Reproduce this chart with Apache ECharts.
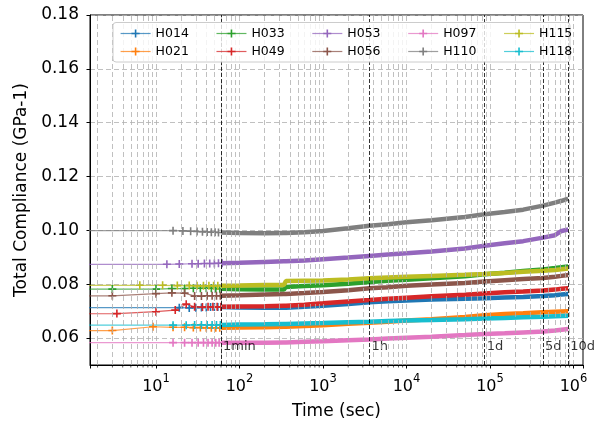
<!DOCTYPE html>
<html>
<head>
<meta charset="utf-8">
<script src="https://cdn.jsdelivr.net/npm/echarts@6/dist/echarts.min.js"></script>
<style>html,body{margin:0;padding:0;background:#fff}#c{width:594px;height:426px}</style>
</head>
<body>
<div id="c"></div>
<script>
// ---------- data ----------
const NAMES = ['H014','H021','H033','H049','H053','H056','H097','H110','H115','H118'];
const COLORS = ['#1f77b4','#ff7f0e','#2ca02c','#d62728','#9467bd','#8c564b','#e377c2','#7f7f7f','#bcbd22','#17becf'];

// early (sparse, with markers) part: time (s) and compliance (GPa-1)
const T_H014 = [1, 19, 25, 30, 35, 40, 45, 50, 55, 60];
const C_H014 = [0.0713, 0.0713, 0.0712, 0.0713, 0.0714, 0.0714, 0.0715, 0.0715, 0.0715, 0.0715];
const T_H021 = [1, 3, 9.2, 16, 22, 28, 34, 40, 46, 52, 58];
const C_H021 = [0.0627, 0.0628, 0.0642, 0.0640, 0.0640, 0.0639, 0.0639, 0.0638, 0.0638, 0.0638, 0.0638];
const T_H033 = [1, 3, 10, 15.5, 22, 28, 34, 40, 46, 52, 58];
const C_H033 = [0.0782, 0.0782, 0.0782, 0.0784, 0.0784, 0.0785, 0.0785, 0.0785, 0.0785, 0.0784, 0.0783];
const T_H049 = [1, 3.4, 10, 17, 23, 29, 36, 42, 48, 54, 60];
const C_H049 = [0.0690, 0.0691, 0.0698, 0.0704, 0.0726, 0.0716, 0.0715, 0.0716, 0.0716, 0.0716, 0.0716];
const T_H053 = [1, 13.5, 19, 27, 32, 38, 44, 50, 56, 62];
const C_H053 = [0.0874, 0.0874, 0.0875, 0.0876, 0.0876, 0.0877, 0.0877, 0.0877, 0.0878, 0.0878];
const T_H056 = [1, 3, 10, 15.5, 22, 29, 35, 41, 47, 53, 59];
const C_H056 = [0.0757, 0.0757, 0.0765, 0.0768, 0.0767, 0.0756, 0.0756, 0.0757, 0.0757, 0.0757, 0.0757];
const T_H097 = [1, 16, 22, 27, 32, 37, 42, 47, 52, 57];
const C_H097 = [0.0583, 0.0583, 0.0583, 0.0583, 0.0583, 0.0583, 0.0583, 0.0583, 0.0583, 0.0583];
const T_H110 = [1, 16, 21, 26, 31, 36, 41, 46, 51, 56];
const C_H110 = [0.0999, 0.0999, 0.0998, 0.0997, 0.0996, 0.0995, 0.0994, 0.0993, 0.0993, 0.0992];
const T_H115 = [1, 6.4, 12, 18, 25, 31, 37, 43, 49, 55];
const C_H115 = [0.0796, 0.0796, 0.0796, 0.0795, 0.0795, 0.0794, 0.0794, 0.0794, 0.0794, 0.0794];
const T_H118 = [1, 16, 23, 29, 35, 41, 47, 53, 59];
const C_H118 = [0.0648, 0.0648, 0.0648, 0.0649, 0.0649, 0.0649, 0.0649, 0.0649, 0.0649];

// dense part (markers merge into a thick band)
const BAND_T = [60, 100, 200, 340, 360, 600, 1000, 2000, 3600, 6000, 10000, 20000, 50000, 86400, 150000, 250000, 432000, 600000, 720000, 864000];
const B_H014 = [0.0715, 0.0714, 0.0713, 0.0713, 0.0713, 0.0716, 0.0720, 0.0727, 0.0733, 0.0737, 0.0740, 0.0743, 0.0746, 0.0748, 0.0751, 0.0753, 0.0756, 0.0759, 0.0762, 0.0764];
const B_H021 = [0.0638, 0.0639, 0.0640, 0.0642, 0.0642, 0.0645, 0.0648, 0.0653, 0.0657, 0.0661, 0.0665, 0.0670, 0.0678, 0.0685, 0.0689, 0.0692, 0.0696, 0.0698, 0.0699, 0.0700];
const B_H033 = [0.0783, 0.0781, 0.0780, 0.0780, 0.0790, 0.0793, 0.0796, 0.0802, 0.0808, 0.0813, 0.0817, 0.0822, 0.0830, 0.0837, 0.0843, 0.0849, 0.0855, 0.0860, 0.0863, 0.0866];
const B_H049 = [0.0716, 0.0717, 0.0718, 0.0720, 0.0720, 0.0724, 0.0729, 0.0736, 0.0741, 0.0746, 0.0750, 0.0755, 0.0761, 0.0766, 0.0770, 0.0773, 0.0777, 0.0780, 0.0783, 0.0785];
const B_H053 = [0.0878, 0.0880, 0.0883, 0.0885, 0.0885, 0.0888, 0.0893, 0.0899, 0.0905, 0.0910, 0.0915, 0.0922, 0.0933, 0.0943, 0.0952, 0.0960, 0.0973, 0.0982, 0.0998, 0.1003];
const B_H056 = [0.0757, 0.0759, 0.0762, 0.0764, 0.0764, 0.0767, 0.0771, 0.0778, 0.0785, 0.0789, 0.0794, 0.0799, 0.0805, 0.0810, 0.0815, 0.0819, 0.0823, 0.0828, 0.0831, 0.0834];
const B_H097 = [0.0583, 0.0583, 0.0583, 0.0584, 0.0584, 0.0586, 0.0588, 0.0592, 0.0595, 0.0598, 0.0601, 0.0605, 0.0611, 0.0615, 0.0618, 0.0621, 0.0624, 0.0628, 0.0631, 0.0634];
const B_H110 = [0.0992, 0.0990, 0.0989, 0.0990, 0.0990, 0.0993, 0.0998, 0.1008, 0.1017, 0.1023, 0.1030, 0.1038, 0.1050, 0.1060, 0.1068, 0.1077, 0.1092, 0.1103, 0.1110, 0.1118];
const B_H115 = [0.0794, 0.0795, 0.0797, 0.0797, 0.0812, 0.0813, 0.0814, 0.0818, 0.0822, 0.0825, 0.0828, 0.0831, 0.0835, 0.0838, 0.0842, 0.0846, 0.0850, 0.0853, 0.0856, 0.0858];
const B_H118 = [0.0649, 0.0650, 0.0651, 0.0652, 0.0652, 0.0654, 0.0656, 0.0659, 0.0661, 0.0663, 0.0665, 0.0667, 0.0670, 0.0673, 0.0675, 0.0677, 0.0679, 0.0681, 0.0682, 0.0683];

// reference time marks
const REF_T = [60, 3600, 86400, 432000, 864000];
const REF_LABELS = ['1min', '1h', '1d', '5d', '10d'];

// legend rows (matplotlib fills columns first)
const LEGEND_ROW1 = ['H014','H033','H053','H097','H115'];
const LEGEND_ROW2 = ['H021','H049','H056','H110','H118'];

// axis ranges
const X_MIN = 1.62, X_MAX = 1.3e6;
const Y_MIN = 0.05, Y_MAX = 0.18;

const EARLY = {H014:[T_H014,C_H014],H021:[T_H021,C_H021],H033:[T_H033,C_H033],H049:[T_H049,C_H049],H053:[T_H053,C_H053],
  H056:[T_H056,C_H056],H097:[T_H097,C_H097],H110:[T_H110,C_H110],H115:[T_H115,C_H115],H118:[T_H118,C_H118]};
const BAND = {H014:B_H014,H021:B_H021,H033:B_H033,H049:B_H049,H053:B_H053,H056:B_H056,H097:B_H097,H110:B_H110,H115:B_H115,H118:B_H118};

// ---------- chart ----------
const FONT = 'DejaVu Sans';
const PLUS = 'path://M4,0H6V4H10V6H6V10H4V6H0V4H4Z';
const zip = (a, b) => a.map((v, i) => [v, b[i]]);

// grid line positions for the log axis (decoration)
const gridX = [];
for (let e = 0; e <= 6; e++) for (let m = 1; m <= 9; m++) {
  const v = m * Math.pow(10, e);
  if (v > X_MIN && v < X_MAX) gridX.push(v);
}
const minorX = gridX.filter(v => Math.abs(Math.log10(v) - Math.round(Math.log10(v))) > 1e-9);

const series = [];
// grid lines (behind data)
series.push({
  type: 'line', data: [], silent: true, z: 1,
  markLine: {
    silent: true, symbol: ['none', 'none'], animation: false,
    label: {show: false},
    lineStyle: {color: '#b0b0b0', type: [5, 3], width: 0.8},
    data: gridX.map(v => ({xAxis: v}))
  }
});
// early thin lines with + markers
NAMES.forEach((n, i) => {
  series.push({
    name: n, type: 'line', z: 3,
    data: zip(EARLY[n][0], EARLY[n][1]),
    symbol: PLUS, symbolSize: 8, showSymbol: true,
    itemStyle: {color: COLORS[i]},
    lineStyle: {color: COLORS[i], width: 1.2, opacity: 0.75},
    emphasis: {disabled: true}
  });
});
// dense band parts
NAMES.forEach((n, i) => {
  series.push({
    name: n, type: 'line', z: 3,
    data: zip(BAND_T, BAND[n]),
    showSymbol: false, symbol: 'none',
    itemStyle: {color: COLORS[i]},
    lineStyle: {color: COLORS[i], width: 4.5},
    emphasis: {disabled: true}
  });
});
// reference lines + labels
series.push({
  type: 'scatter', z: 4, silent: true,
  symbolSize: 0,
  data: REF_T.map((t, i) => ({value: [t, 0.0567], name: REF_LABELS[i]})),
  label: {show: true, position: 'right', distance: 2, formatter: p => p.name,
          fontFamily: FONT, fontSize: 13, color: '#000'},
  markLine: {
    silent: true, symbol: ['none', 'none'], animation: false,
    label: {show: false},
    lineStyle: {color: '#000', type: [4, 2], width: 0.8},
    data: REF_T.map(t => ({xAxis: t}))
  }
});
// minor ticks on the x axis
series.push({
  type: 'scatter', z: 5, silent: true, clip: false,
  symbol: 'rect', symbolSize: [0.8, 2.4], symbolOffset: [0, 1.2],
  itemStyle: {color: '#000'},
  data: minorX.map(v => [v, Y_MIN])
});

const legendCommon = {
  selectedMode: false, orient: 'horizontal', padding: 0,
  itemWidth: 30, itemHeight: 10, itemGap: 27,
  lineStyle: {width: 1.2, opacity: 0.75},
  textStyle: {fontFamily: FONT, fontSize: 12.5, color: '#000'}
};

const option = {
  animation: false,
  backgroundColor: '#fff',
  grid: {left: 90, right: 11, top: 15, bottom: 61, show: true, borderColor: '#000', borderWidth: 1, backgroundColor: 'transparent'},
  graphic: [{
    type: 'rect', z: 10, silent: true,
    shape: {x: 113, y: 22.5, width: 457, height: 39.5, r: 3},
    style: {fill: 'rgba(255,255,255,0.8)', stroke: '#cccccc', lineWidth: 1}
  }],
  legend: [
    Object.assign({}, legendCommon, {data: LEGEND_ROW1, left: 120, top: 27, z: 20}),
    Object.assign({}, legendCommon, {data: LEGEND_ROW2, left: 120, top: 45, z: 20})
  ],
  xAxis: {
    type: 'log', logBase: 10, min: X_MIN, max: X_MAX,
    name: 'Time (sec)', nameLocation: 'middle', nameGap: 38,
    nameTextStyle: {fontFamily: FONT, fontSize: 17, color: '#000'},
    axisLine: {show: true, lineStyle: {color: '#000', width: 1}},
    axisTick: {show: true, length: 3.5, lineStyle: {color: '#000'}},
    splitLine: {show: false},
    axisLabel: {
      margin: 8, color: '#000', fontFamily: FONT, fontSize: 16,
      formatter: v => {
        const e = Math.log10(v);
        if (Math.abs(e - Math.round(e)) > 1e-6) return '';
        return '{b|10}{s|' + Math.round(e) + '}';
      },
      rich: {
        b: {fontFamily: FONT, fontSize: 16, color: '#000', lineHeight: 22, verticalAlign: 'bottom'},
        s: {fontFamily: FONT, fontSize: 11.5, color: '#000', lineHeight: 22, verticalAlign: 'top'}
      }
    }
  },
  yAxis: {
    type: 'value', min: Y_MIN, max: Y_MAX, splitNumber: 7,
    name: 'Total Compliance (GPa-1)', nameLocation: 'middle', nameGap: 60,
    nameTextStyle: {fontFamily: FONT, fontSize: 17, color: '#000'},
    axisLine: {show: true, lineStyle: {color: '#000', width: 1}},
    axisTick: {show: true, length: 3.5, lineStyle: {color: '#000'}},
    splitLine: {show: true, lineStyle: {color: '#b0b0b0', type: [5, 3], width: 0.8}},
    axisLabel: {
      margin: 11, color: '#000', fontFamily: FONT, fontSize: 17, showMinLabel: false,
      formatter: v => (Math.abs(v - Y_MIN) < 1e-9 ? '' : v.toFixed(2))
    }
  },
  series: series
};

const chart = echarts.init(document.getElementById('c'), null, {renderer: 'canvas'});
chart.setOption(option);
</script>
</body>
</html>
